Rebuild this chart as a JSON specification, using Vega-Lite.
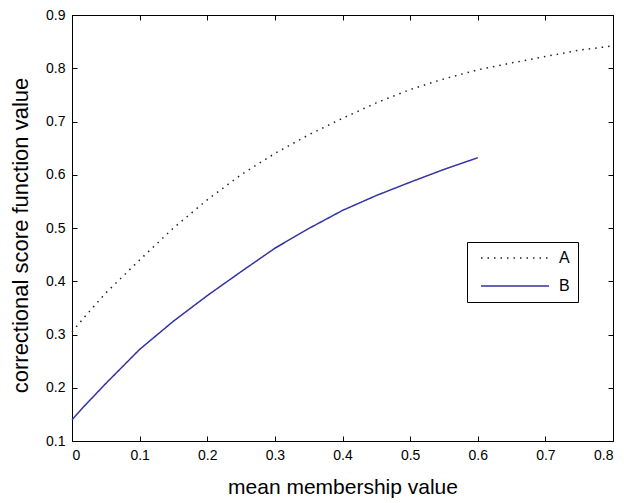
{
  "$schema": "https://vega.github.io/schema/vega-lite/v6.json",
  "width": 541,
  "height": 426,
  "autosize": {"type": "none"},
  "padding": {"left": 72, "top": 15, "right": 11, "bottom": 62},
  "background": "white",
  "config": {
    "view": {"stroke": "black", "strokeWidth": 1},
    "font": "Liberation Sans",
    "axis": {"grid": false, "domainColor": "black", "tickColor": "black", "labelColor": "black", "titleColor": "black", "labelFont": "Liberation Sans", "titleFont": "Liberation Sans", "labelFontSize": 14, "titleFontSize": 21, "titleFontWeight": "normal", "tickSize": -5, "domainWidth": 1}
  },
  "data": {"values": [
    {"x": 0, "y": 0.305, "s": "A"},
    {"x": 0.02, "y": 0.335, "s": "A"},
    {"x": 0.05, "y": 0.378, "s": "A"},
    {"x": 0.1, "y": 0.44, "s": "A"},
    {"x": 0.15, "y": 0.5, "s": "A"},
    {"x": 0.2, "y": 0.553, "s": "A"},
    {"x": 0.25, "y": 0.6, "s": "A"},
    {"x": 0.3, "y": 0.64, "s": "A"},
    {"x": 0.35, "y": 0.675, "s": "A"},
    {"x": 0.4, "y": 0.706, "s": "A"},
    {"x": 0.45, "y": 0.735, "s": "A"},
    {"x": 0.5, "y": 0.76, "s": "A"},
    {"x": 0.55, "y": 0.78, "s": "A"},
    {"x": 0.6, "y": 0.797, "s": "A"},
    {"x": 0.65, "y": 0.81, "s": "A"},
    {"x": 0.7, "y": 0.822, "s": "A"},
    {"x": 0.75, "y": 0.834, "s": "A"},
    {"x": 0.8, "y": 0.842, "s": "A"},
    {"x": 0, "y": 0.14, "s": "B"},
    {"x": 0.02, "y": 0.168, "s": "B"},
    {"x": 0.05, "y": 0.208, "s": "B"},
    {"x": 0.1, "y": 0.272, "s": "B"},
    {"x": 0.15, "y": 0.325, "s": "B"},
    {"x": 0.2, "y": 0.373, "s": "B"},
    {"x": 0.25, "y": 0.418, "s": "B"},
    {"x": 0.3, "y": 0.462, "s": "B"},
    {"x": 0.35, "y": 0.499, "s": "B"},
    {"x": 0.4, "y": 0.533, "s": "B"},
    {"x": 0.45, "y": 0.561, "s": "B"},
    {"x": 0.5, "y": 0.586, "s": "B"},
    {"x": 0.55, "y": 0.61, "s": "B"},
    {"x": 0.6, "y": 0.632, "s": "B"}
  ]},
  "resolve": {"axis": {"x": "independent", "y": "independent"}},
  "layer": [
    {
      "mark": {"type": "line", "strokeWidth": 1.5},
      "encoding": {
        "x": {"field": "x", "type": "quantitative", "scale": {"domain": [0, 0.8], "nice": false},
              "axis": {"orient": "bottom", "title": "mean membership value", "values": [0,0.1,0.2,0.3,0.4,0.5,0.6,0.7,0.8], "labelPadding": 12, "titlePadding": 14, "labelExpr": "datum.value == 0 ? '0' : format(datum.value, '.1f')"}},
        "y": {"field": "y", "type": "quantitative", "scale": {"domain": [0.1, 0.9], "nice": false, "zero": false},
              "axis": {"orient": "left", "title": "correctional score function value", "titleFontSize": 22, "titleY": 220, "values": [0.1,0.2,0.3,0.4,0.5,0.6,0.7,0.8,0.9], "labelPadding": 12, "titlePadding": 13, "format": ".1f"}},
        "color": {"field": "s", "type": "nominal", "scale": {"domain": ["A", "B"], "range": ["#222222", "#3434a2"]},
                  "legend": {"title": null, "orient": "none", "legendX": 395, "legendY": 227, "strokeColor": "black", "fillColor": "white", "padding": 8, "symbolType": "M-0.333,0H11", "symbolSize": 144, "symbolStrokeWidth": 1.5, "labelFontSize": 16, "labelColor": "black", "rowPadding": 12, "labelOffset": 68}},
        "strokeDash": {"field": "s", "type": "nominal", "scale": {"domain": ["A", "B"], "range": [[1.5, 5], [1, 0]]}, "legend": null}
      }
    },
    {
      "mark": {"type": "line", "opacity": 0},
      "encoding": {
        "x": {"field": "x", "type": "quantitative", "scale": {"domain": [0, 0.8], "nice": false},
              "axis": {"orient": "top", "title": null, "labels": false, "values": [0,0.1,0.2,0.3,0.4,0.5,0.6,0.7,0.8]}},
        "y": {"field": "y", "type": "quantitative", "scale": {"domain": [0.1, 0.9], "nice": false, "zero": false},
              "axis": {"orient": "right", "title": null, "labels": false, "values": [0.1,0.2,0.3,0.4,0.5,0.6,0.7,0.8,0.9]}}
      }
    }
  ]
}
